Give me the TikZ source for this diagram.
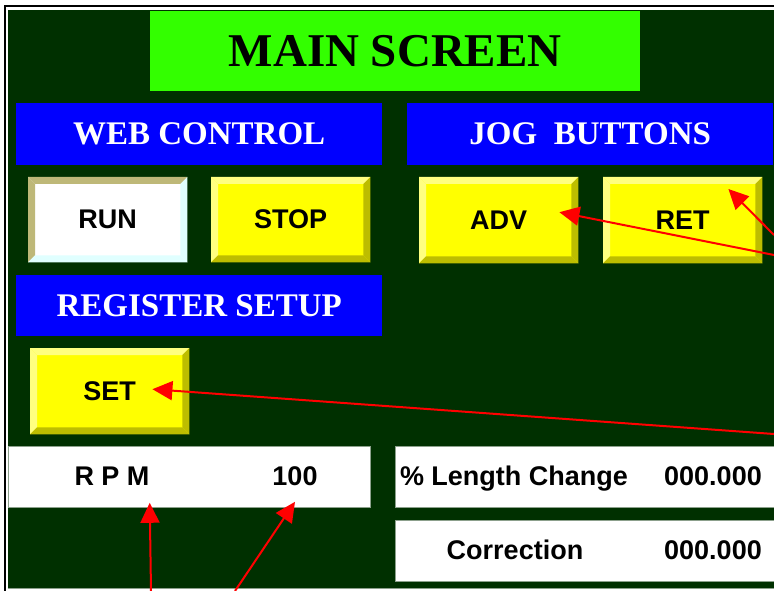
\documentclass[tikz,border=0pt]{standalone}
\usepackage{fontspec}
\setmainfont{Liberation Serif}
\setsansfont{Liberation Sans}
\usetikzlibrary{positioning,calc,arrows.meta}

\definecolor{panelgreen}{RGB}{0,48,0}
\definecolor{titlegreen}{RGB}{51,255,0}
\definecolor{hmiblue}{RGB}{0,0,255}
\definecolor{btnyellow}{RGB}{255,255,0}
\definecolor{btnlight}{RGB}{255,255,128}
\definecolor{btndark}{RGB}{189,189,0}
\definecolor{runlight}{RGB}{190,184,120}
\definecolor{rundark}{RGB}{224,255,255}
\definecolor{boxedge}{RGB}{140,160,140}

\tikzset{
  titlebar/.style={fill=titlegreen, anchor=north west, inner sep=0pt,
    minimum width=490, minimum height=80,
    font=\fontsize{47}{47}\selectfont\bfseries},
  headbar/.style={fill=hmiblue, text=white, anchor=north west, inner sep=0pt,
    minimum width=366, minimum height=62,
    font=\fontsize{33}{33}\selectfont\bfseries},
  yelbtn/.style={fill=btnyellow, anchor=north west, inner sep=0pt,
    minimum width=159, minimum height=86,
    font=\sffamily\bfseries\fontsize{27}{27}\selectfont},
  readout/.style={fill=white, draw=boxedge, line width=0.8pt, anchor=north west,
    inner sep=0pt, minimum height=61},
  readtext/.style={anchor=base, inner sep=0pt,
    font=\sffamily\bfseries\fontsize{27}{27}\selectfont},
  redarrow/.style={draw=red, line width=2pt,
    -{Triangle[length=20pt,width=19pt]}}
}

% bevelled edge of a button: node, light side, dark side
\newcommand\hmibevel[3]{
  \fill[#2] (#1.north west) -- (#1.north east) -- ($(#1.north east)+(-7,7)$) -- ($(#1.north west)+(7,7)$) -- cycle;
  \fill[#2] (#1.north west) -- ($(#1.north west)+(7,7)$) -- ($(#1.south west)+(7,-7)$) -- (#1.south west) -- cycle;
  \fill[#3] (#1.south west) -- (#1.south east) -- ($(#1.south east)+(-7,-7)$) -- ($(#1.south west)+(7,-7)$) -- cycle;
  \fill[#3] (#1.north east) -- (#1.south east) -- ($(#1.south east)+(-7,-7)$) -- ($(#1.north east)+(-7,7)$) -- cycle;
}

\begin{document}
\begin{tikzpicture}[x=1pt, y=-1pt]

% Page size and clipping
\useasboundingbox (0,0) rectangle (774,591);
\clip (0,0) rectangle (774,591);

% Screen background and frame
\fill[white] (0,0) rectangle (774,591);
\draw[black, line width=2pt] (5,6) rectangle (800,600);
\fill[panelgreen] (8,10) rectangle (800,588);
\draw[boxedge] (8,588) -- (800,588);

% Title
\node[titlebar] (title) at (150,11) {MAIN SCREEN};

% Section headings
\node[headbar] (web) at (16,103) {WEB CONTROL};
\node[headbar] (jog) at (407,103) {JOG~~BUTTONS};
\node[headbar, minimum height=61] (reg) at (16,275) {REGISTER SETUP};

% Buttons
\node[yelbtn, fill=white, minimum height=85] (run) at (28,177) {RUN};
\node[yelbtn, minimum height=85] (stop) at (211,177) {STOP};
\node[yelbtn] (adv) at (419,177) {ADV};
\node[yelbtn] (ret) at (603,177) {RET};
\node[yelbtn] (set) at (30,348) {SET};

% Bevels of the buttons
\hmibevel{run}{runlight}{rundark}
\hmibevel{stop}{btnlight}{btndark}
\hmibevel{adv}{btnlight}{btndark}
\hmibevel{ret}{btnlight}{btndark}
\hmibevel{set}{btnlight}{btndark}

% Readout boxes
\node[readout, minimum width=362] (rpm) at (8,446) {};
\node[readout, minimum width=400] (lenchg) at (395,446) {};
\node[readout, minimum width=400] (corr) at (395,520) {};

% Readout texts
\node[readtext] (rpmlabel) at (112,485) {R P M};
\node[readtext] (rpmvalue) at (295,485) {100};
\node[readtext] (lenlabel) at (514,485) {\% Length Change};
\node[readtext] (lenvalue) at (713,485) {000.000};
\node[readtext] (corrlabel) at (515,559) {Correction};
\node[readtext] (corrvalue) at (713,559) {000.000};

% Free ends of the callout arrows
\coordinate (retfoot) at (774,235);
\coordinate (advfoot) at (774,255);
\coordinate (setfoot) at (774,434);
\coordinate (rpmfoot) at (151,591);
\coordinate (valfoot) at (235,591);

% Callout arrows
\draw[redarrow] (retfoot) -- ($(ret.north east)+(-34,12)$);
\draw[redarrow] (advfoot) -- ($(adv.east)+(-19,-8)$);
\draw[redarrow] (setfoot) -- ($(set.east)+(-37,-2)$);
\draw[redarrow] (rpmfoot) -- ($(rpmlabel.east |- rpm.south)+(0,-5)$);
\draw[redarrow] (valfoot) -- ($(rpmvalue.center |- rpm.south)+(0,-6)$);

\end{tikzpicture}
\end{document}
